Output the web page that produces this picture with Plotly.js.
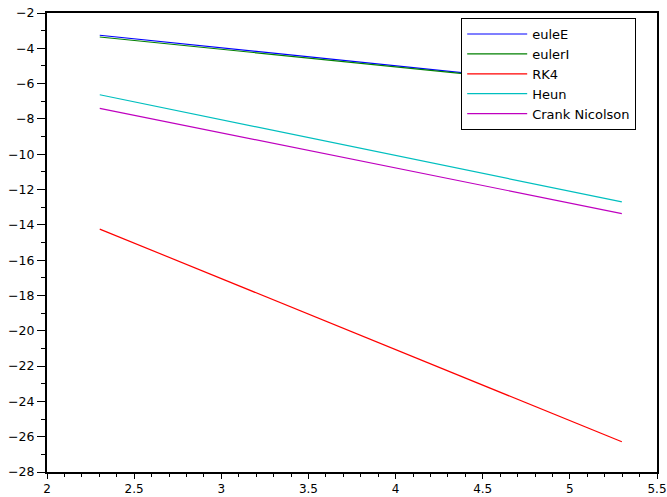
<!DOCTYPE html>
<html>
<head>
<meta charset="utf-8">
<script src="https://cdn.plot.ly/plotly-3.0.1.min.js"></script>
<style>html,body{margin:0;padding:0;background:#fff;}#chart{width:667px;height:497px;}</style>
</head>
<body>
<div id="chart"></div>
<script>
const logN = [2.3026, 5.2983];
const euleE = [-3.26, -6.32];
const eulerI = [-3.36, -6.34];
const rk4 = [-14.24, -26.29];
const heun = [-6.63, -12.70];
const crank = [-7.40, -13.36];
const names = ["euleE", "eulerI", "RK4", "Heun", "Crank Nicolson"];
const colors = ["#0000ff", "#008000", "#ff0000", "#00bfbf", "#bf00bf"];
const series = [euleE, eulerI, rk4, heun, crank];

const traces = series.map((s, i) => ({
  x: logN, y: s, type: "scatter", mode: "lines", name: names[i],
  line: {color: colors[i], width: 1.2}
}));

const axisCommon = {
  showgrid: false, zeroline: false, showline: true, linecolor: "#000", linewidth: 2,
  mirror: true, ticks: "outside", tickwidth: 1, tickcolor: "#000"
};

const layout = {
  width: 667, height: 497,
  margin: {l: 47, r: 10, t: 13, b: 25},
  paper_bgcolor: "#fff", plot_bgcolor: "#fff",
  showlegend: true,
  legend: {
    x: 0.679, y: 0.989, xanchor: "left", yanchor: "top",
    bgcolor: "#fff", bordercolor: "#000", borderwidth: 1,
    font: {family: "DejaVu Sans", size: 13, color: "#000"},
    tracegroupgap: 0, itemwidth: 60
  },
  xaxis: Object.assign({}, axisCommon, {
    range: [2, 5.5], dtick: 0.5, tick0: 2, ticklen: 5,
    tickfont: {family: "DejaVu Sans", size: 12, color: "#000"},
    minor: {dtick: 0.1, ticks: "outside", ticklen: 3, tickcolor: "#000"}
  }),
  yaxis: Object.assign({}, axisCommon, {
    range: [-28, -2], dtick: 2, tick0: -28, ticklen: 8,
    tickfont: {family: "DejaVu Sans", size: 12.5, color: "#000"},
    minor: {dtick: 1, ticks: "outside", ticklen: 4, tickcolor: "#000"}
  })
};

Plotly.newPlot("chart", traces, layout, {displayModeBar: false, staticPlot: true});
</script>
</body>
</html>
